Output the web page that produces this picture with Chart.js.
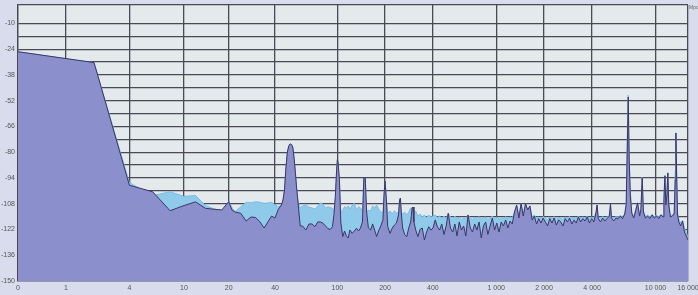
<!DOCTYPE html>
<html><head><meta charset="utf-8">
<script src="https://cdn.jsdelivr.net/npm/chart.js@4/dist/chart.umd.min.js"></script>
<style>
html,body{margin:0;padding:0;background:#d9dcec;}
#wrap{position:relative;width:698px;height:295px;overflow:hidden;}
canvas{display:block;}
#unit{position:absolute;left:689px;top:4px;font:5px "Liberation Sans",Arial,sans-serif;color:#666;}
</style></head><body>
<div id="wrap"><canvas id="c" width="698" height="295"></canvas><span id="unit">Mpo</span></div>
<script>
const freqs = [
0,2,4,6,8,10,12,14,16,18,20,21,22,24,
26,28,30,32,34,36,38,40,42,44,
45,46,47,48,49,50,51,52,53,54,55,56,
58,60,63,66,69,72,75,78,81,84,87,90,
93,95,97,99,100,101,103,105,108,
111,114,117,120,124,128,132,136,140,144,147,150,
153,157,162,167,172,177,182,188,194,197,200,203,
208,215,222,229,236,243,247,250,253,258,266,274,
282,290,296,300,304,312,322,332,343,354,365,377,
389,401,414,427,441,455,470,485,500,516,533,550,
568,586,605,625,645,666,688,710,733,757,781,806,
832,859,887,916,946,977,1009,1042,1076,1111,1147,1184,
1222,1262,1303,1345,1389,1434,1480,1528,1578,1629,1682,1737,
1793,1851,1911,1973,2037,2103,2171,2241,2314,2389,2466,2546,
2628,2713,2801,2892,2985,3082,3182,3285,3391,3501,3614,3731,
3852,3977,4106,4239,4300,4376,4518,4664,4815,4971,5132,5220,
5298,5470,5647,5830,6019,6214,6415,6550,6650,6745,6840,6950,
7100,7300,7500,7720,7950,8100,8255,8400,8650,8930,9220,9520,
9830,10150,10480,10820,11150,11300,11460,11620,11800,11960,12120,12400,
12750,13100,13300,13430,13560,13750,14000,14400,14800,15200,15600,16000
];
const levelDark = [
-25.4,-31.3,-98,-101.5,-111.8,-109,-107,-110.5,-111,-111.4,-106.9,-111.4,-112.5,-113.2,
-117.4,-115.2,-115.5,-117.9,-121.2,-117.9,-114.7,-115.8,-111,-108.7,
-106,-100.5,-88.6,-79.9,-76.6,-75.5,-75.8,-77.2,-83.2,-90.8,-99.5,-106,
-120.1,-120.1,-122.3,-119,-119,-120.5,-117.9,-117.9,-118.6,-120.1,-121.5,-122,
-120.5,-114.1,-104.2,-88.6,-83.9,-85.9,-95.1,-117.9,-125.9,
-122.8,-125.5,-126.6,-122.3,-124.1,-122.8,-121.3,-122.8,-121.2,-117.9,-94,-94,
-112.5,-121.2,-122.3,-119,-122.3,-125.9,-122.8,-120.1,-116.8,-103.3,-95.7,-103.3,
-120.5,-124.1,-121.2,-119.6,-118.5,-114.1,-106,-104.9,-112.5,-121.2,-124.7,-125.9,
-121.2,-117.9,-110.3,-109.8,-117.9,-122.3,-125.9,-122,-121.2,-127.7,-123.4,-120.5,
-122.3,-121.2,-116.8,-120.5,-122.3,-119,-124.7,-120.1,-113.2,-121.2,-123.4,-119,
-125.5,-117.9,-122.3,-120.1,-125.5,-114.1,-121.2,-123.4,-119,-122.3,-117.9,-126.6,
-120.1,-117.9,-124.7,-120.1,-115.8,-122.3,-118.5,-123.4,-117.9,-120.1,-116.8,-121.2,
-117.4,-119,-112.5,-108.7,-115.8,-107.9,-114.7,-107.9,-111.4,-109.2,-116.8,-114.7,
-119,-116.1,-118.5,-115.8,-117.9,-120.1,-116.1,-118.5,-115.8,-119.6,-116.8,-117.9,
-120.1,-116.1,-117.9,-115.8,-119,-116.8,-118.5,-115.2,-117.9,-116.1,-117.4,-115.2,
-118.5,-116.1,-117.9,-112.5,-108.7,-116.1,-117.9,-115.8,-117.4,-116.1,-114.7,-108.2,
-115.8,-117.4,-115.8,-116.1,-114.7,-116.1,-113.6,-108.7,-78.8,-50,-84.2,-103.3,
-113.2,-115.8,-112,-107.6,-114.7,-111.4,-94,-112.5,-115.8,-114.7,-116.1,-114.1,
-115.8,-114.7,-116.1,-114.1,-115.2,-106,-92.9,-108.7,-103.3,-91.3,-108.7,-115.2,
-114.7,-113.6,-95.1,-69.6,-89.7,-113.6,-117.9,-120.1,-117.4,-123.4,-125.5,-127.7
];
const levelLight = [
-25.4,-31.3,-96.5,-103.6,-101.5,-104,-103.5,-109,-110.8,-111.8,-106.8,-110,-112.3,-109.6,
-107.2,-107.5,-106.9,-107.2,-107.8,-107.5,-107.2,-108.5,-109.6,-108.7,
-106,-100.5,-88.6,-79.9,-76.6,-75.5,-75.8,-77.2,-83.2,-90.8,-99.5,-106,
-110.3,-109.2,-108.7,-109.8,-110.3,-110.9,-109.2,-107.5,-108.2,-110.3,-109.6,-110,
-110.5,-112,-104.2,-88.6,-83.9,-85.9,-95.1,-113,-111.4,
-109.6,-110.3,-109.2,-110.9,-108.7,-107.8,-111.4,-109.6,-110.3,-112,-94,-94,
-112.5,-111.4,-112,-109.2,-110.3,-108.7,-110.9,-112.5,-113,-103.3,-95.7,-103.3,
-113.2,-112,-113.6,-111.8,-113.2,-112.5,-106,-104.9,-112.5,-113.6,-112.5,-114.1,
-112.5,-110.3,-110.3,-109.8,-114.1,-112,-114.7,-113.6,-115.2,-114.1,-115.5,-114.1,
-115.2,-114.7,-114.1,-115.5,-114.7,-115.8,-114.7,-116.1,-113.2,-115.2,-116.4,-114.7,
-116.1,-115.2,-116.8,-115.5,-116.4,-114.1,-115.8,-116.6,-115.2,-116.1,-115,-116.4,
-115.5,-115.2,-116.6,-115.8,-114.7,-116.1,-115.2,-116.4,-115.5,-116.1,-114.9,-116.1,
-115.2,-115.8,-112.5,-108.7,-114.4,-107.9,-113.5,-107.9,-111.4,-109.2,-115.2,-114.1,
-116.1,-115.2,-116.1,-114.9,-115.8,-116.6,-115.2,-116.1,-115,-116.4,-115.5,-115.8,
-116.6,-115.2,-115.8,-114.9,-116.1,-115.5,-116.1,-114.7,-115.8,-115.2,-115.8,-114.7,
-116.1,-115.2,-115.8,-112.5,-108.7,-115.2,-115.8,-115,-115.8,-115.2,-114.4,-108.2,
-115,-115.8,-115,-115.2,-114.4,-115.2,-113.2,-107,-72,-49,-80,-100,
-112.5,-115,-111.4,-107.4,-114.1,-110.8,-93.5,-111.8,-115,-114.1,-115.2,-113.8,
-115,-114.1,-115.2,-113.8,-114.4,-104,-92.4,-107,-101,-91,-107,-114.4,
-114.1,-113,-90,-69.4,-86,-112.5,-116.4,-118.5,-117,-121,-123.5,-126
];
const xTickFreqs = [0,1,4,10,20,40,100,200,400,1000,2000,4000,10000,16000];
const xTickLabels = ['0','1','4','10','20','40','100','200','400','1 000','2 000','4 000','10 000','16 000'];
const yGridValues = [-150,-143,-136,-129,-122,-115,-108,-101,-94,-87,-80,-73,-66,-59,-52,-45,-38,-31,-24,-17,-10,0];
const yLabelValues = [-150,-136,-122,-108,-94,-80,-66,-52,-38,-24,-10];

const toAxis = f => Math.log10(f + 1);
const ptsDark = freqs.map((f, i) => ({x: toAxis(f), y: levelDark[i]}));
const ptsLight = freqs.map((f, i) => ({x: toAxis(f), y: levelLight[i]}));

const bgPlugin = {
  id: 'plotBg',
  beforeDraw(chart) {
    const {ctx, chartArea: a} = chart;
    ctx.save();
    ctx.fillStyle = '#e4eaec';
    ctx.fillRect(a.left, a.top, a.right - a.left, a.bottom - a.top);
    ctx.restore();
  }
};

const tickFont = {family: '"Liberation Sans", Arial, sans-serif', size: 7};
new Chart(document.getElementById('c'), {
  type: 'line',
  data: {
    datasets: [
      {data: ptsDark, borderColor: '#3d3566', borderWidth: 1, backgroundColor: '#8b90cc',
       fill: 'start', pointRadius: 0, tension: 0, order: 0},
      {data: ptsLight, borderColor: '#6fb6e2', borderWidth: 0.8, backgroundColor: '#8fcaea',
       fill: 'start', pointRadius: 0, tension: 0, order: 1}
    ]
  },
  options: {
    responsive: false, animation: false, devicePixelRatio: 1,
    layout: {padding: {top: 5, right: 10, left: 0, bottom: 0}},
    plugins: {legend: {display: false}, tooltip: {enabled: false}},
    scales: {
      x: {
        type: 'linear', min: 0, max: toAxis(16000),
        afterBuildTicks: s => { s.ticks = xTickFreqs.map(f => ({value: toAxis(f)})); },
        afterFit: s => { s.height = 14; s.paddingLeft = 0; s.paddingRight = 0; },
        ticks: {autoSkip: false, maxRotation: 0, padding: 3, color: '#555', font: tickFont,
                callback: (v, i) => xTickLabels[i]},
        grid: {color: '#4a4a56', lineWidth: 1.3, drawTicks: false},
        border: {color: '#4a4a56', width: 1.3}
      },
      y: {
        type: 'linear', min: -150, max: 0,
        afterBuildTicks: s => { s.ticks = yGridValues.map(v => ({value: v})); },
        afterFit: s => { s.width = 18; s.paddingTop = 0; s.paddingBottom = 0; },
        ticks: {autoSkip: false, padding: 3, color: '#555', font: tickFont,
                callback: v => yLabelValues.includes(v) ? String(v) : ''},
        grid: {color: '#4a4a56', lineWidth: 1.3, drawTicks: false},
        border: {color: '#4a4a56', width: 1.3}
      }
    }
  },
  plugins: [bgPlugin]
});
</script>
</body></html>
